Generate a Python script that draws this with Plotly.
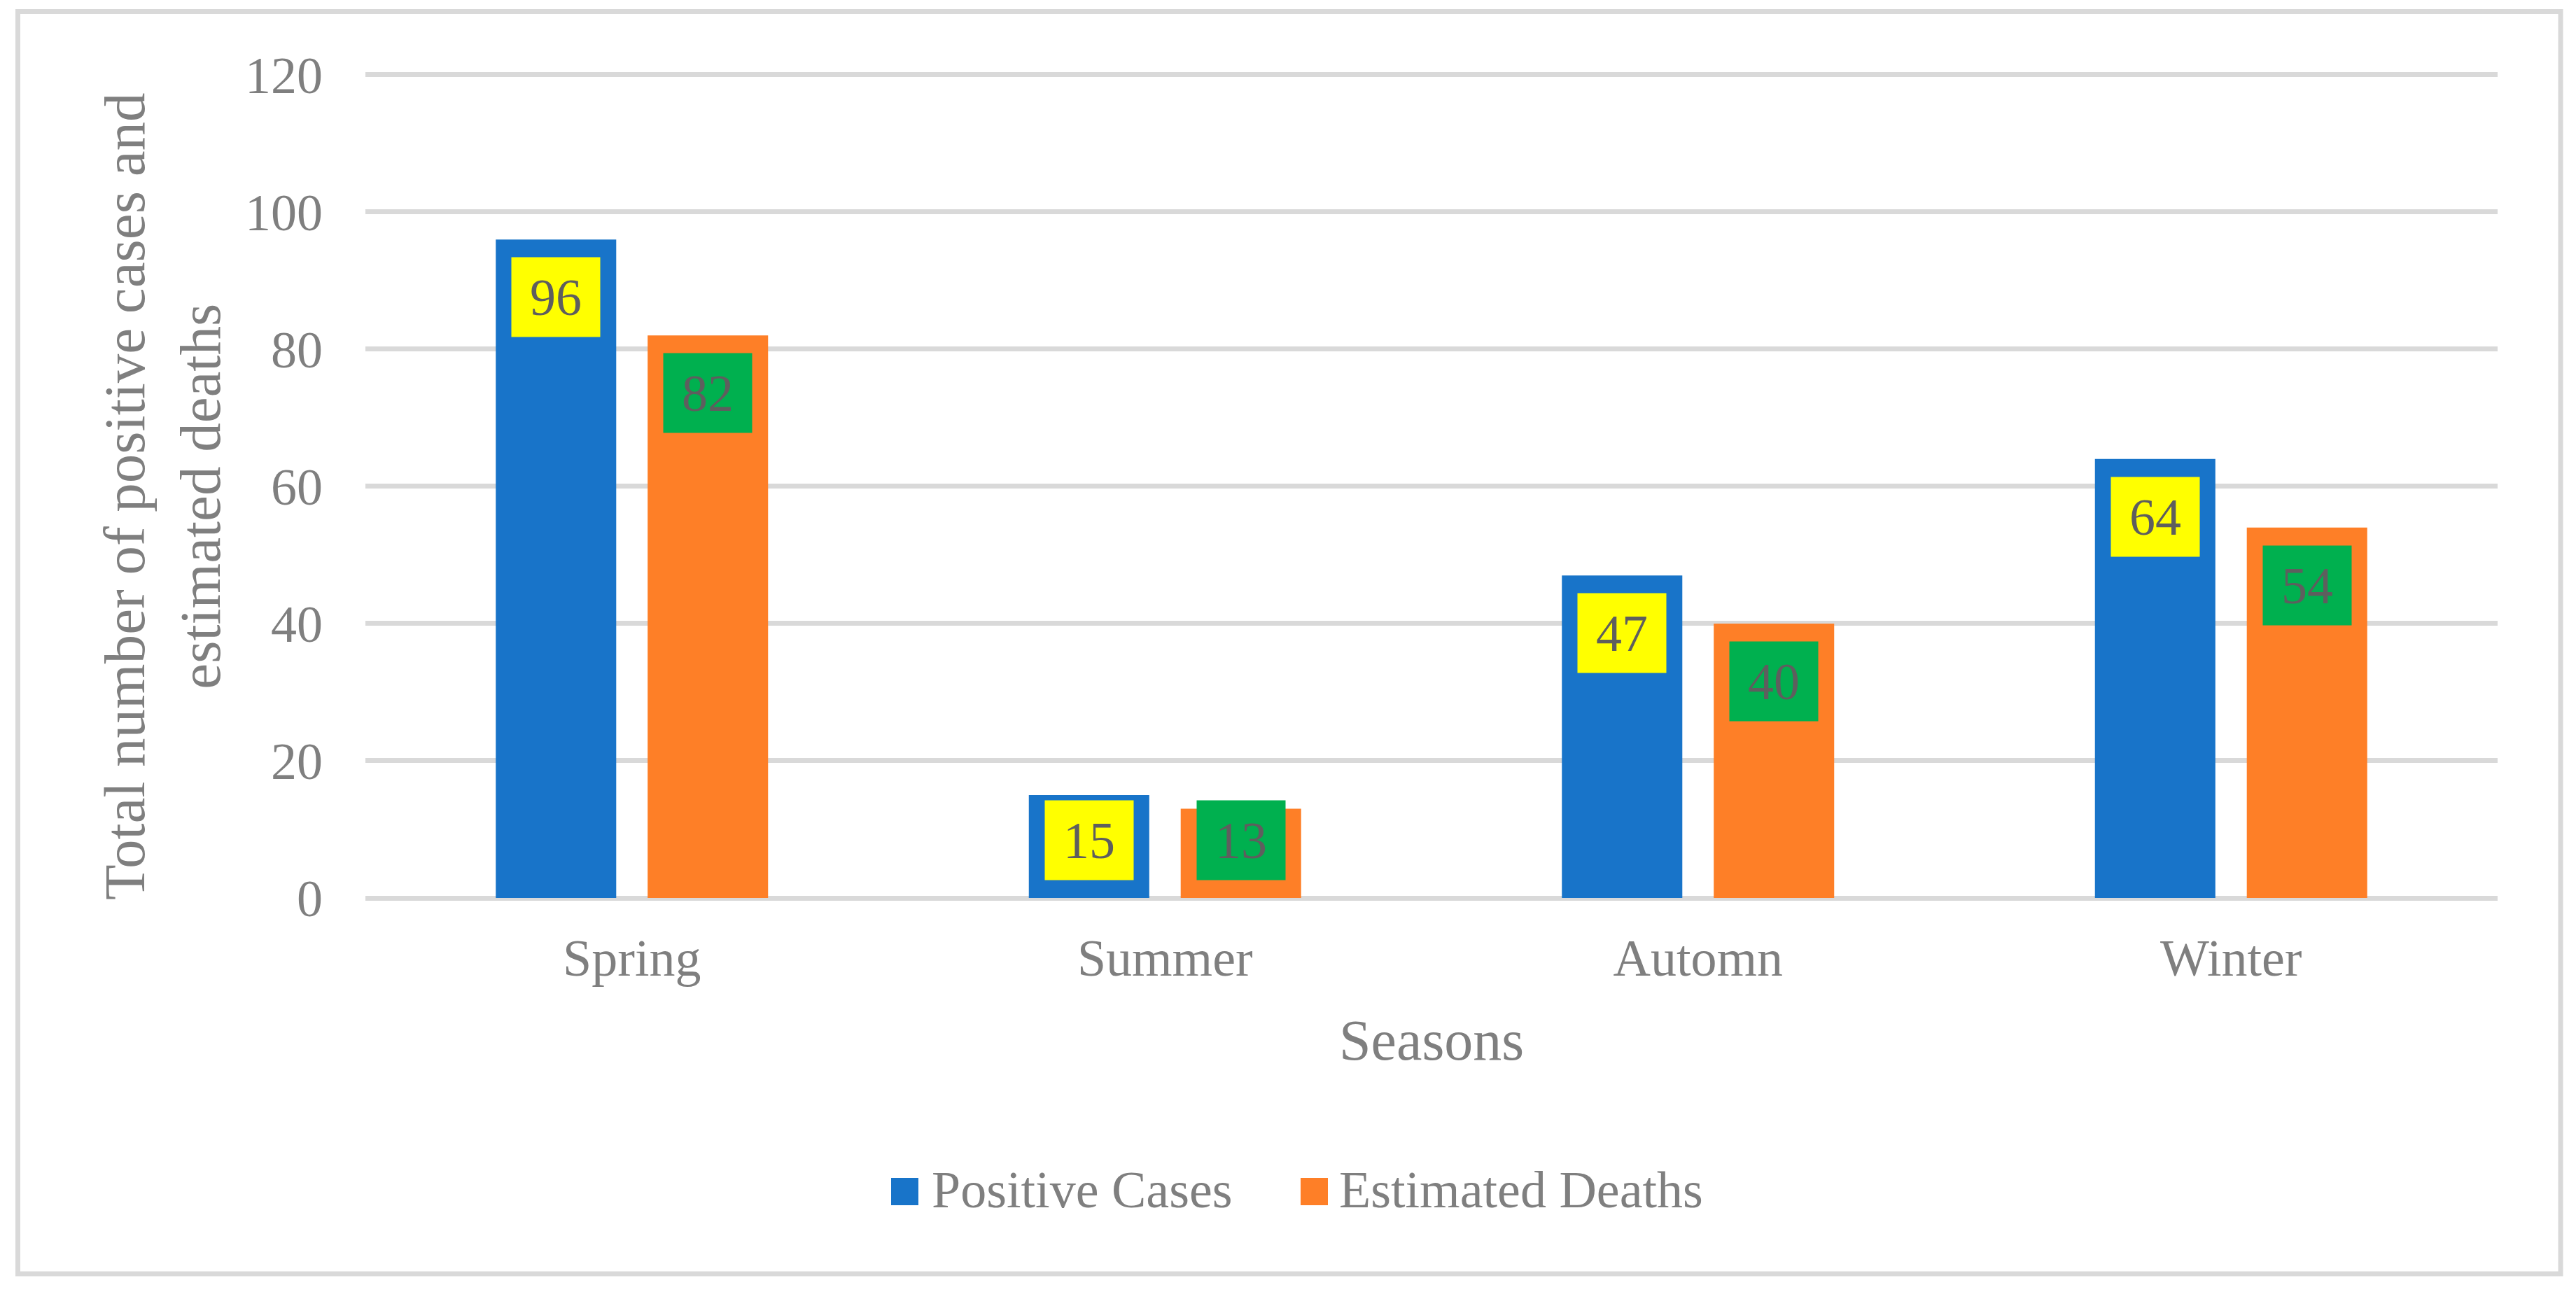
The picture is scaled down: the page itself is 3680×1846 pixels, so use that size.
import plotly.graph_objects as go

# ---------------- data ----------------
seasons = ["Spring", "Summer", "Automn", "Winter"]
positive_cases = [96, 15, 47, 64]
estimated_deaths = [82, 13, 40, 54]
y_ticks = [0, 20, 40, 60, 80, 100, 120]
series_names = ["Positive Cases", "Estimated Deaths"]

# ---------------- style ----------------
W, H = 3680, 1846
Y_MAX = 120
Y_TOP = 120.4          # small headroom so the 120 gridline is drawn
UNIT = 9.8             # px per unit
L, R, B = 522, 112, 563
PH = round(UNIT * Y_TOP)
T = H - B - PH
PW = W - L - R

BLUE = "#1874C9"
ORANGE = "#FE7F27"
YELLOW = "#FFFF00"
GREEN = "#00B04F"
GRID = "#D9D9D9"
TXT = "#7F7F7F"
LBL = "#5E5E5E"
FONT = "Liberation Serif"

BAR_W = 0.2259
OFFS = [-0.2554, 0.0295]
BOX_W, BOX_H, BOX_GAP = 126, 113, 25


def px_x(px):
    return (px - L) / PW


def px_y(py):
    return (H - B - py) / PH


fig = go.Figure()
colors = [BLUE, ORANGE]
values = [positive_cases, estimated_deaths]
for name, vals, col, off in zip(series_names, values, colors, OFFS):
    fig.add_trace(go.Bar(
        x=seasons, y=vals, name=name, marker=dict(color=col, line=dict(width=0)),
        width=BAR_W, offset=off, showlegend=False, hoverinfo="x+y+name",
    ))

# data labels (boxes inside bar ends)
annotations = []
unit_px = PH / Y_TOP
box_cols = [YELLOW, GREEN]
for s, (vals, off, bc) in enumerate(zip(values, OFFS, box_cols)):
    for i, v in enumerate(vals):
        xc = i + off + BAR_W / 2
        if v * unit_px - BOX_GAP - BOX_H < BOX_GAP:
            yy, ya, ys = 0, "bottom", BOX_GAP
        else:
            yy, ya, ys = v, "top", -BOX_GAP
        annotations.append(dict(
            x=xc, y=yy, xref="x", yref="y", text=str(v), showarrow=False,
            xanchor="center", yanchor=ya, yshift=ys, width=BOX_W, height=BOX_H,
            bgcolor=bc, borderpad=0, align="center", valign="middle",
            font=dict(family=FONT, size=74, color=LBL),
        ))

# axis titles
annotations.append(dict(
    x=px_x(232), y=px_y(709), xref="paper", yref="paper", showarrow=False,
    text="Total number of positive cases and<br>estimated deaths", textangle=-90,
    xanchor="center", yanchor="middle", font=dict(family=FONT, size=83, color=TXT),
))
annotations.append(dict(
    x=0.5, y=px_y(1486), xref="paper", yref="paper", showarrow=False,
    text="Seasons", xanchor="center", yanchor="middle",
    font=dict(family=FONT, size=82, color=TXT),
))

# legend (drawn as squares + text)
shapes = []
legend_items = [(series_names[0], BLUE, 1273, 1329), (series_names[1], ORANGE, 1858, 1911)]
for name, col, sx, tx in legend_items:
    shapes.append(dict(type="rect", xref="paper", yref="paper",
                       x0=px_x(sx), x1=px_x(sx + 39), y0=px_y(1722), y1=px_y(1683),
                       fillcolor=col, line=dict(width=0)))
    annotations.append(dict(
        x=px_x(tx), y=px_y(1700), xref="paper", yref="paper", showarrow=False,
        text=name, xanchor="left", yanchor="middle",
        font=dict(family=FONT, size=74, color=TXT),
    ))

# chart border
shapes.append(dict(type="rect", xref="paper", yref="paper", layer="below",
                   x0=px_x(25.5), x1=px_x(3658), y0=px_y(1820), y1=px_y(16.5),
                   line=dict(color=GRID, width=7), fillcolor="rgba(0,0,0,0)"))

fig.update_layout(
    width=W, height=H, margin=dict(l=L, r=R, t=T, b=B, autoexpand=False),
    paper_bgcolor="white", plot_bgcolor="white", barmode="overlay",
    font=dict(family=FONT, color=TXT),
    annotations=annotations, shapes=shapes, showlegend=False,
)
fig.update_xaxes(
    type="category", range=[-0.5, 3.5], showgrid=False, showline=False, ticks="",
    tickfont=dict(family=FONT, size=74, color=TXT), ticklabelstandoff=36,
)
fig.update_yaxes(
    range=[0, Y_TOP], tickvals=y_ticks, showgrid=True, gridcolor=GRID, gridwidth=7,
    zeroline=True, zerolinecolor=GRID, zerolinewidth=7, showline=False, ticks="",
    tickfont=dict(family=FONT, size=74, color=TXT), ticklabelstandoff=60,
)

fig.write_html(
    "out.html",
    config={"displayModeBar": False},
    post_script="document.body.style.margin='0px';document.body.style.overflow='hidden';",
)
